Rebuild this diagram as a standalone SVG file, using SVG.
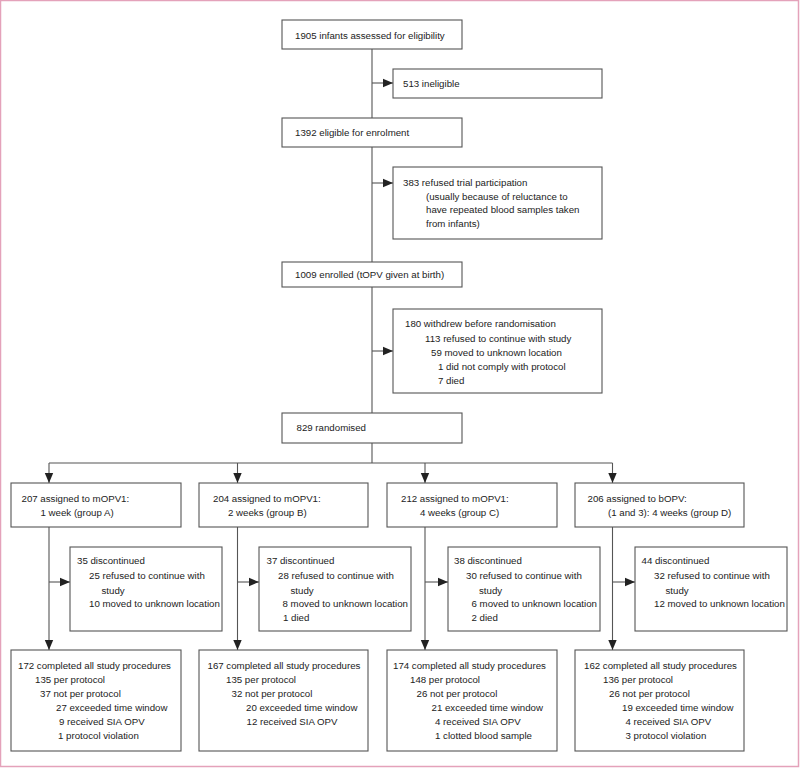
<svg xmlns="http://www.w3.org/2000/svg" width="800" height="768" viewBox="0 0 800 768">
<defs>
<marker id="ah" markerUnits="userSpaceOnUse" markerWidth="10" markerHeight="10" viewBox="0 0 10 10" refX="10" refY="5" orient="auto">
<path d="M0,0.8 L10,5 L0,9.2 Z" fill="#222"/>
</marker>
<style>
.b{fill:#fff;stroke:#555;stroke-width:1.1}
.c{fill:none;stroke:#555;stroke-width:1.1}
.a{fill:none;stroke:#555;stroke-width:1.1;marker-end:url(#ah)}
text{font-family:"Liberation Sans",Arial,sans-serif;font-size:9.7px;fill:#222}
</style>
</defs>
<rect x="0.5" y="0.5" width="798" height="766" fill="#fff" stroke="#e4a2ba" stroke-width="1.5"/>

<g id="connectors">
<line class="c" x1="372" y1="49" x2="372" y2="118"/>
<line class="c" x1="372" y1="147" x2="372" y2="262"/>
<line class="c" x1="372" y1="287" x2="372" y2="413"/>
<line class="c" x1="372" y1="443" x2="372" y2="463"/>
<line class="a" x1="372" y1="83" x2="393" y2="83"/>
<line class="a" x1="372" y1="183" x2="393" y2="183"/>
<line class="a" x1="372" y1="351" x2="393" y2="351"/>
<line class="c" x1="49" y1="463" x2="612.5" y2="463"/>
<line class="a" x1="49" y1="463" x2="49" y2="483"/>
<line class="a" x1="237.5" y1="463" x2="237.5" y2="483"/>
<line class="a" x1="425" y1="463" x2="425" y2="483"/>
<line class="a" x1="612.5" y1="463" x2="612.5" y2="483"/>
<line class="a" x1="49" y1="527" x2="49" y2="650"/>
<line class="a" x1="237.5" y1="527" x2="237.5" y2="650"/>
<line class="a" x1="425" y1="527" x2="425" y2="650"/>
<line class="a" x1="612.5" y1="527" x2="612.5" y2="650"/>
<line class="a" x1="49" y1="582" x2="70" y2="582"/>
<line class="a" x1="237.5" y1="582" x2="259" y2="582"/>
<line class="a" x1="425" y1="582" x2="448" y2="582"/>
<line class="a" x1="612.5" y1="582" x2="635" y2="582"/>
</g>

<g id="assessed">
<rect class="b" x="282" y="20" width="180" height="29"/>
<text x="295" y="38.5">1905 infants assessed for eligibility</text>
</g>
<g id="ineligible">
<rect class="b" x="393" y="69" width="209" height="29"/>
<text x="403" y="87">513 ineligible</text>
</g>
<g id="eligible">
<rect class="b" x="282" y="118" width="180" height="29"/>
<text x="295" y="136">1392 eligible for enrolment</text>
</g>
<g id="refused">
<rect class="b" x="393" y="167" width="209" height="72"/>
<text x="403" y="186">383 refused trial participation</text>
<text x="426" y="199.5">(usually because of reluctance to</text>
<text x="426" y="213">have repeated blood samples taken</text>
<text x="426" y="227">from infants)</text>
</g>
<g id="enrolled">
<rect class="b" x="282" y="262" width="180" height="25"/>
<text x="295" y="277.5">1009 enrolled (tOPV given at birth)</text>
</g>
<g id="withdrew">
<rect class="b" x="393" y="309" width="209" height="84"/>
<text x="405" y="327">180 withdrew before randomisation</text>
<text x="425" y="342">113 refused to continue with study</text>
<text x="431" y="355.5">59 moved to unknown location</text>
<text x="438" y="370">1 did not comply with protocol</text>
<text x="438" y="384">7 died</text>
</g>
<g id="randomised">
<rect class="b" x="282" y="413" width="180" height="30"/>
<text x="296.5" y="430.5">829 randomised</text>
</g>

<g id="groupA">
<rect class="b" x="11" y="483" width="170" height="44"/>
<text x="21.5" y="502">207 assigned to mOPV1:</text>
<text x="40.5" y="516">1 week (group A)</text>
</g>
<g id="groupB">
<rect class="b" x="199" y="483" width="169" height="44"/>
<text x="213" y="502">204 assigned to mOPV1:</text>
<text x="228" y="516">2 weeks (group B)</text>
</g>
<g id="groupC">
<rect class="b" x="387" y="483" width="170" height="44"/>
<text x="401" y="502">212 assigned to mOPV1:</text>
<text x="420" y="516">4 weeks (group C)</text>
</g>
<g id="groupD">
<rect class="b" x="575" y="483" width="169" height="44"/>
<text x="587.5" y="502">206 assigned to bOPV:</text>
<text x="608" y="516">(1 and 3): 4 weeks (group D)</text>
</g>

<g id="discA">
<rect class="b" x="70" y="547" width="152" height="84"/>
<text x="77" y="564">35 discontinued</text>
<text x="89" y="578.5">25 refused to continue with</text>
<text x="101.5" y="593.5">study</text>
<text x="89" y="607">10 moved to unknown location</text>
</g>
<g id="discB">
<rect class="b" x="259" y="547" width="152" height="84"/>
<text x="266.5" y="564">37 discontinued</text>
<text x="278" y="578.5">28 refused to continue with</text>
<text x="290.5" y="593.5">study</text>
<text x="282.5" y="607">8 moved to unknown location</text>
<text x="283" y="621">1 died</text>
</g>
<g id="discC">
<rect class="b" x="448" y="547" width="152" height="84"/>
<text x="454" y="564">38 discontinued</text>
<text x="466" y="578.5">30 refused to continue with</text>
<text x="479" y="593.5">study</text>
<text x="471.5" y="607">6 moved to unknown location</text>
<text x="471.5" y="621">2 died</text>
</g>
<g id="discD">
<rect class="b" x="635" y="547" width="152" height="84"/>
<text x="641.5" y="564">44 discontinued</text>
<text x="654" y="578.5">32 refused to continue with</text>
<text x="665.5" y="593.5">study</text>
<text x="654" y="607">12 moved to unknown location</text>
</g>

<g id="completedA">
<rect class="b" x="11" y="650" width="170" height="101"/>
<text x="18" y="669">172 completed all study procedures</text>
<text x="35" y="683">135 per protocol</text>
<text x="40" y="697">37 not per protocol</text>
<text x="56" y="711">27 exceeded time window</text>
<text x="59" y="725">9 received SIA OPV</text>
<text x="58" y="739">1 protocol violation</text>
</g>
<g id="completedB">
<rect class="b" x="199" y="650" width="169" height="101"/>
<text x="207.5" y="669">167 completed all study procedures</text>
<text x="226" y="683">135 per protocol</text>
<text x="231.5" y="697">32 not per protocol</text>
<text x="246" y="711">20 exceeded time window</text>
<text x="246.5" y="725">12 received SIA OPV</text>
</g>
<g id="completedC">
<rect class="b" x="387" y="650" width="170" height="101"/>
<text x="393" y="669">174 completed all study procedures</text>
<text x="410" y="683">148 per protocol</text>
<text x="416.5" y="697">26 not per protocol</text>
<text x="431.5" y="711">21 exceeded time window</text>
<text x="435" y="725">4 received SIA OPV</text>
<text x="435" y="739">1 clotted blood sample</text>
</g>
<g id="completedD">
<rect class="b" x="575" y="650" width="169" height="101"/>
<text x="584" y="669">162 completed all study procedures</text>
<text x="603" y="683">136 per protocol</text>
<text x="609" y="697">26 not per protocol</text>
<text x="622" y="711">19 exceeded time window</text>
<text x="625.5" y="725">4 received SIA OPV</text>
<text x="625.5" y="739">3 protocol violation</text>
</g>
</svg>
